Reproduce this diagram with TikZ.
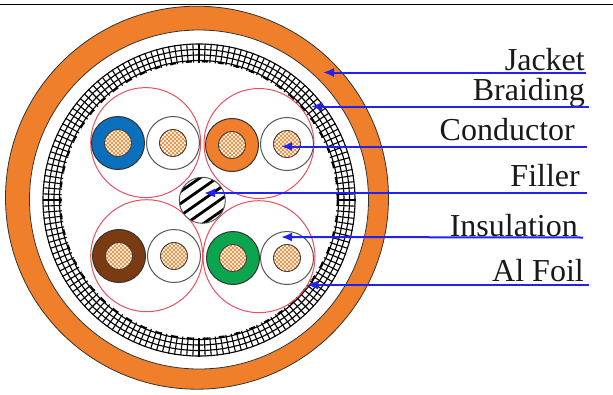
\documentclass[tikz,border=0pt]{standalone}
\usepackage{fontspec}
\setmainfont{Liberation Serif}
\usetikzlibrary{arrows.meta}
\definecolor{jacketc}{HTML}{F07F2B}
\definecolor{corec}{HTML}{EE8A35}
\definecolor{arrowc}{HTML}{2222EE}
\definecolor{redc}{HTML}{E8505F}
\definecolor{bluec}{HTML}{0A70BC}
\definecolor{brownc}{HTML}{7A3B10}
\definecolor{greenc}{HTML}{0BA550}
\definecolor{greyc}{HTML}{555555}
\tikzset{
  x=1pt,y=-1pt,
  label text/.style={font=\fontsize{32}{32}\selectfont,anchor=base east,inner sep=0pt,text=black!90},
  pair ring/.style={circle,draw=redc,line width=1pt,minimum size=110pt,inner sep=0pt},
  wire/.style={circle,draw=#1,line width=1pt,minimum size=53pt,inner sep=0pt},
  core/.style={circle,draw=black!75,line width=0.9pt,minimum size=27pt,inner sep=0pt,fill=corec,
    path picture={
      \foreach \k in {-10,...,10}{
        \draw[white,line width=0.5pt] ([shift={(\k*4,-16)}]path picture bounding box.center) -- ++(32,32);
        \draw[white,line width=0.5pt] ([shift={(\k*4,-16)}]path picture bounding box.center) -- ++(-32,32);
      }
    }},
  pointer/.style={draw=arrowc,fill=arrowc,line width=2pt,-{Latex[length=11pt,width=9pt]}},
}
\newcommand{\conductor}[4]{%
  \node[wire=black!80,fill=#4] (w#1) at (#2,#3) {};
  \node[core] (c#1) at (#2,#3) {};
}
\newcommand{\bare}[3]{%
  \node[wire=greyc,fill=white] (w#1) at (#2,#3) {};
  \node[core] (c#1) at (#2,#3) {};
}
\begin{document}
\begin{tikzpicture}
\useasboundingbox (0,0) rectangle (613,394);
\fill[white] (0,0) rectangle (613,394);
\coordinate (tl) at (0,4.5);
\coordinate (tr) at (613,4.5);
\draw[black,line width=1.3pt] (tl) -- (tr);

% jacket
\path[draw=black!80,fill=jacketc,line width=0.8pt] (197,197.7) circle[radius=191.5];
\path[draw=black!80,fill=white,line width=0.8pt] (199,199.5) circle[radius=169.5];

% braid
\begin{scope}[shift={(199,200)}]
  \foreach \a in {0,2.25,...,358}{
    \draw[black,line width=1.1pt] (\a:137.5) -- (\a:156.5);
  }
  \foreach \r in {139.5,145,150.5,156}{
    \draw[black,line width=1.1pt] (0,0) circle[radius=\r];
  }
  \draw[black,line width=1.8pt,dash pattern=on 6pt off 10pt] (0,0) circle[radius=138.6];
\end{scope}

% pairs
\node[pair ring] (p1) at (145.7,142.6) {};
\node[pair ring] (p2) at (259,143.5) {};
\node[pair ring,minimum size=112pt] (p3) at (146.7,255.7) {};
\node[pair ring,minimum size=112pt] (p4) at (259,256.7) {};

\conductor{a}{118}{143}{bluec}
\bare{b}{173}{143}
\conductor{d}{232}{145}{jacketc}
\bare{e}{287}{144}
\conductor{f}{119}{256}{brownc}
\bare{g}{174}{256}
\conductor{h}{233}{258}{greenc}
\bare{i}{287}{258}

% filler
\node[circle,draw=black!70,fill=white,line width=0.9pt,minimum size=46pt,inner sep=0pt,
  path picture={
    \foreach \k in {-4,...,4}{
      \draw[black,line width=2.8pt] ([shift={(-30,\k*12+21)}]path picture bounding box.center) -- ++(60,-42);
    }
  }] (filler) at (202.3,200.3) {};

% labels
\node[label text] (ljacket) at (585,70) {Jacket};
\node[label text] (lbraid) at (585,100) {Braiding};
\node[label text] (lcond) at (575,140) {Conductor};
\node[label text] (lfill) at (580,186) {Filler};
\node[label text] (lins) at (578,236) {Insulation};
\node[label text] (lfoil) at (584,281) {Al Foil};

% pointers
\coordinate (s1) at (586,72.5); \coordinate (t1) at (323,72.5);
\coordinate (s2) at (589,106.5); \coordinate (t2) at (311,106.5);
\coordinate (s3) at (587,146.5); \coordinate (t3) at (281,146.5);
\coordinate (s4) at (587,193); \coordinate (t4) at (204,193);
\coordinate (s5) at (583,237.5); \coordinate (t5) at (281,237);
\coordinate (s6) at (589,285); \coordinate (t6) at (307,285);
\foreach \i in {1,...,6}{
  \draw[pointer] (s\i) -- (t\i);
}
\end{tikzpicture}
\end{document}
